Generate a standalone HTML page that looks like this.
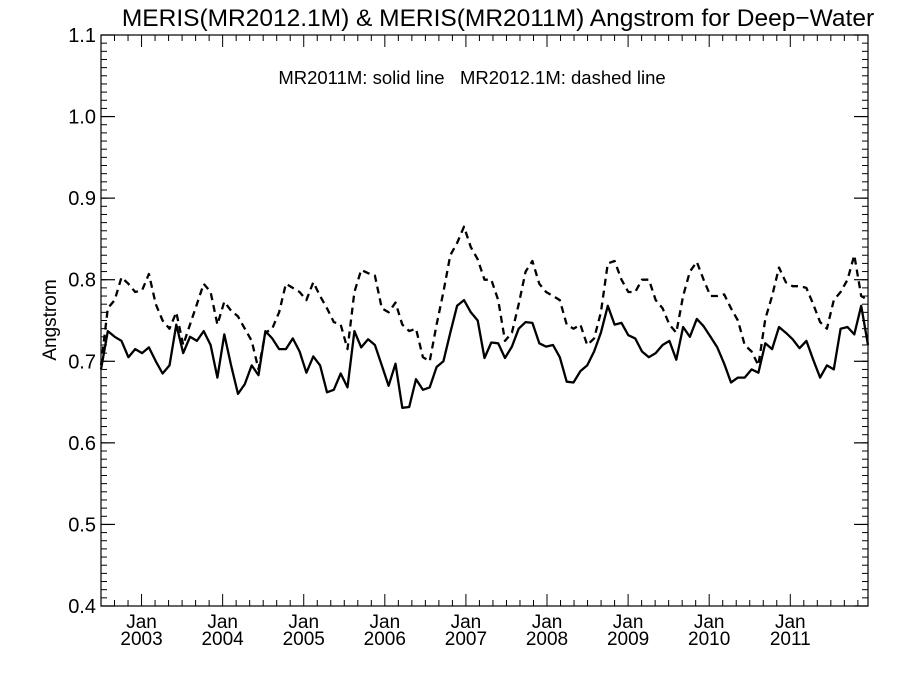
<!DOCTYPE html>
<html><head><meta charset="utf-8"><style>
body{margin:0;background:#fff}
svg text{font-family:"Liberation Sans",Arial,sans-serif;fill:#000}
</style></head><body>
<svg width="900" height="675" viewBox="0 0 900 675" xmlns="http://www.w3.org/2000/svg">
<text x="498" y="26" font-size="24.5" text-anchor="middle">MERIS(MR2012.1M) &amp; MERIS(MR2011M)  Angstrom for Deep−Water</text>
<text x="472" y="84" font-size="18.5" text-anchor="middle" xml:space="preserve">MR2011M: solid line   MR2012.1M: dashed line</text>
<text transform="translate(56,320) rotate(-90)" font-size="19" text-anchor="middle">Angstrom</text>
<g id="axes"></g>
<g id="series"></g>
</svg>
<script>
const yTicks=[0.4,0.5,0.6,0.7,0.8,0.9,1.0,1.1];
const yTickLabels=["0.4","0.5","0.6","0.7","0.8","0.9","1.0","1.1"];
const xYears=["2003","2004","2005","2006","2007","2008","2009","2010","2011"];
const solidMR2011=[0.69,0.737,0.73,0.725,0.705,0.715,0.71,0.717,0.70,0.685,
0.695,0.745,0.71,0.73,0.725,0.737,0.72,0.68,0.733,0.695,
0.66,0.672,0.695,0.683,0.737,0.728,0.715,0.715,0.728,0.712,
0.686,0.706,0.695,0.662,0.665,0.685,0.668,0.737,0.717,0.727,
0.72,0.695,0.67,0.697,0.643,0.644,0.678,0.665,0.668,0.693,
0.7,0.735,0.768,0.775,0.76,0.75,0.704,0.723,0.722,0.704,
0.718,0.74,0.748,0.747,0.722,0.718,0.72,0.705,0.675,0.674,
0.688,0.695,0.712,0.735,0.768,0.745,0.747,0.732,0.728,0.712,
0.705,0.71,0.72,0.725,0.702,0.742,0.73,0.752,0.743,0.73,
0.717,0.697,0.674,0.68,0.68,0.69,0.686,0.722,0.715,0.742,
0.735,0.727,0.716,0.725,0.702,0.68,0.695,0.69,0.74,0.742,
0.733,0.768,0.72];
const dashedMR2012=[0.695,0.765,0.775,0.803,0.795,0.785,0.787,0.807,0.77,0.75,
0.74,0.76,0.72,0.745,0.77,0.795,0.785,0.745,0.773,0.762,
0.755,0.74,0.725,0.69,0.735,0.74,0.76,0.795,0.79,0.785,
0.775,0.797,0.78,0.765,0.748,0.745,0.715,0.785,0.812,0.808,
0.805,0.765,0.76,0.772,0.745,0.737,0.74,0.705,0.7,0.745,
0.785,0.83,0.845,0.865,0.84,0.825,0.8,0.8,0.775,0.725,
0.735,0.77,0.81,0.823,0.795,0.785,0.78,0.775,0.745,0.74,
0.745,0.72,0.728,0.76,0.82,0.823,0.8,0.785,0.785,0.8,
0.8,0.775,0.765,0.745,0.735,0.78,0.81,0.822,0.8,0.78,
0.78,0.782,0.765,0.75,0.72,0.712,0.695,0.752,0.78,0.815,
0.797,0.792,0.792,0.79,0.77,0.748,0.74,0.775,0.785,0.8,
0.83,0.78,0.775];
const NS="http://www.w3.org/2000/svg";
const L=101,R=868,T=35,B=606;
const ymin=0.4,ymax=1.1;
function yS(v){return B-(v-ymin)/(ymax-ymin)*(B-T);}
const startMonth=6.5;
const pxPerMonth=(R-L)/113.5;
function xM(m){return L+(m-startMonth+0.5)*pxPerMonth;}
function xI(i,n){return L+i*(R-L)/(n-1);}
function mk(tag,attrs,parent){const e=document.createElementNS(NS,tag);for(const k in attrs)e.setAttribute(k,attrs[k]);parent.appendChild(e);return e;}
const ax=document.getElementById('axes');
const frame=mk('rect',{x:L,y:T,width:R-L,height:B-T,fill:'none',stroke:'#000','stroke-width':1.2},ax);


for(let k=0;k<=70;k++){const y=yS(0.4+k*0.01);
 const a=mk('line',{x1:L,x2:L+6,y1:y,y2:y,stroke:'#000','stroke-width':1},ax);
 
 const b=mk('line',{x1:R,x2:R-6,y1:y,y2:y,stroke:'#000','stroke-width':1},ax);
 }
yTicks.forEach((v,i)=>{const y=yS(v);
 const a=mk('line',{x1:L,x2:L+14,y1:y,y2:y,stroke:'#000','stroke-width':1.2},ax);
 
 const b=mk('line',{x1:R,x2:R-14,y1:y,y2:y,stroke:'#000','stroke-width':1.2},ax);
 
 const t=mk('text',{x:L-5,y:y+7,'font-size':20,'text-anchor':'end'},ax);t.textContent=yTickLabels[i];
 });
for(let m=8;m<=12*10;m+=2){const x=xM(m);if(x<L||x>R)continue;const maj=(m%12===0);
 const a=mk('line',{x1:x,x2:x,y1:B,y2:B-(maj?12:6),stroke:'#000','stroke-width':1},ax);
 
 const b=mk('line',{x1:x,x2:x,y1:T,y2:T+(maj?12:6),stroke:'#000','stroke-width':1},ax);
 }
xYears.forEach((yr,i)=>{const x=xM(12*(i+1));
 const t1=mk('text',{x:x,y:628,'font-size':19,'text-anchor':'middle'},ax);t1.textContent='Jan';
 
 const t2=mk('text',{x:x,y:645,'font-size':19,'text-anchor':'middle'},ax);t2.textContent=yr;
 });
const sg=document.getElementById('series');
function line(arr,dash,name){const pts=arr.map((v,i)=>xI(i,arr.length).toFixed(1)+','+yS(v).toFixed(1)).join(' ');
 const p=mk('polyline',{points:pts,fill:'none',stroke:'#000','stroke-width':2.3,'stroke-linejoin':'round'},sg);
 if(dash)p.setAttribute('stroke-dasharray','7,5');
 }
line(dashedMR2012,true,'mr2012-dashed-line');
line(solidMR2011,false,'mr2011-solid-line');
</script>
</body></html>
